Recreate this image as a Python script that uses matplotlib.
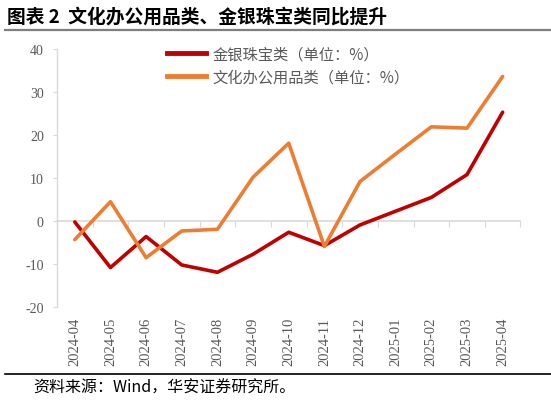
import matplotlib
matplotlib.use("Agg")
import matplotlib.pyplot as plt
from matplotlib.lines import Line2D

plt.rcParams['font.family'] = ['Noto Sans CJK SC', 'DejaVu Sans']

months = ["2024-04", "2024-05", "2024-06", "2024-07", "2024-08", "2024-09", "2024-10",
          "2024-11", "2024-12", "2025-01", "2025-02", "2025-03", "2025-04"]
jewelry = [-0.2, -10.8, -3.6, -10.2, -11.9, -7.7, -2.6, -5.7, -0.9, 2.3, 5.5, 10.8, 25.3]
office = [-4.3, 4.5, -8.5, -2.3, -1.9, 10.2, 18.1, -5.9, 9.2, 15.6, 21.9, 21.6, 33.6]
yticks = [-20, -10, 0, 10, 20, 30, 40]

title = "图表 2  文化办公用品类、金银珠宝类同比提升"
source = "资料来源：Wind，华安证券研究所。"
name_j = "金银珠宝类（单位：%）"
name_o = "文化办公用品类（单位：%）"

RED = "#C00000"
ORANGE = "#ED7D31"
GREY = "#595959"
SPINE = "#D9D9D9"

fig = plt.figure(figsize=(5.51, 4.06), dpi=100)
ax = fig.add_axes([0.1034, 0.241, 0.8412, 0.636])

x = list(range(len(months)))
ax.plot(x, jewelry, color=RED, lw=2.6, solid_capstyle='round', solid_joinstyle='round', zorder=3)
ax.plot(x, office, color=ORANGE, lw=2.6, solid_capstyle='round', solid_joinstyle='round', zorder=3)

ax.set_xlim(-0.5, len(months) - 0.5)
ax.set_ylim(yticks[0], yticks[-1])
ax.set_yticks(yticks)
ax.set_yticklabels([str(v) for v in yticks], family='Liberation Serif', fontsize=10, color=GREY)
ax.tick_params(axis='y', length=3, color=SPINE, pad=6.5)

ax.set_xticks(x)
ax.set_xticklabels(months, rotation=90, family='Liberation Serif', fontsize=10.5, color=GREY)
ax.tick_params(axis='x', length=0, pad=7)

for s in ['top', 'right', 'bottom']:
    ax.spines[s].set_visible(False)
ax.spines['left'].set_color(SPINE)
ax.spines['left'].set_linewidth(1.0)

# zero line axis with category boundary ticks
zero_frac = (0 - yticks[0]) / (yticks[-1] - yticks[0])
sec = ax.secondary_xaxis(zero_frac)
sec.spines['bottom'].set_color(SPINE)
sec.spines['bottom'].set_linewidth(1.2)
sec.set_xticks([i + 0.5 for i in range(-1, len(months))])
sec.tick_params(axis='x', length=4, color=SPINE, labelbottom=False, labeltop=False, direction='out')
sec.set_xticklabels([])

handles = [Line2D([0], [0], color=RED, lw=3.5), Line2D([0], [0], color=ORANGE, lw=3.5)]
leg = ax.legend(handles, [name_j, name_o], loc='upper left', bbox_to_anchor=(0.207, 1.066),
                frameon=False, fontsize=11, handlelength=2.55, handletextpad=0.45,
                labelspacing=0.4, labelcolor=GREY)

fig.text(0.013, 0.958, title, fontsize=13.5, fontweight='bold', color='black', va='center', ha='left')
fig.add_artist(Line2D([0.009, 1.0], [0.924, 0.924], transform=fig.transFigure, color='#7F7F7F', lw=1.6))
fig.add_artist(Line2D([0.009, 1.0], [0.076, 0.076], transform=fig.transFigure, color='black', lw=1.2))
fig.text(0.06, 0.044, source, fontsize=11.5, color='black', va='center', ha='left')

fig.savefig("out.png", dpi=100)
